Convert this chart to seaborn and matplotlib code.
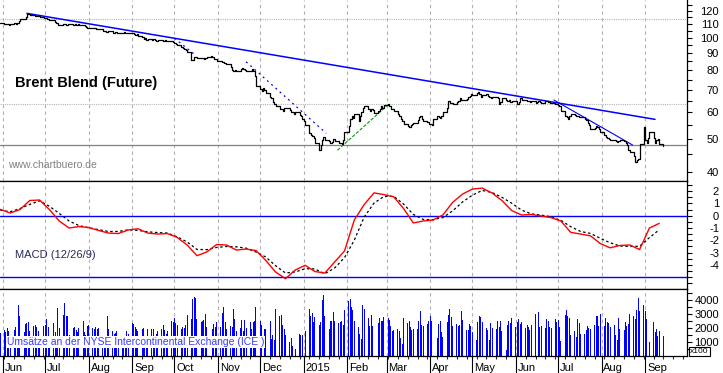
import pandas as pd
import matplotlib
matplotlib.use("Agg")
import matplotlib.pyplot as plt
import matplotlib.dates as mdates
from matplotlib.transforms import ScaledTranslation
from matplotlib.ticker import FixedLocator, FixedFormatter, NullFormatter
import seaborn as sns

sns.set_theme(style="white")
plt.rcParams['font.family'] = ['Liberation Sans', 'DejaVu Sans']

start = '2014-05-30'

# daily close (Brent future), one row per month
close = [
    110.6,
    110.0, 109.5, 109.8, 109.3, 109.8, 110.5, 110.0, 110.8, 111.8, 113.5, 114.0, 115.5, 117.2, 117.7, 116.8, 116.5, 116.2, 115.8, 116.0, 115.2, 114.8,
    114.5, 114.0, 113.8, 113.2, 112.5, 111.5, 110.5, 109.2, 109.0, 109.8, 109.5, 109.2, 109.8, 109.5, 109.0, 109.6, 109.2, 109.5, 108.8, 109.0, 108.5, 107.8, 107.2,
    107.0, 106.5, 106.8, 106.0, 106.2, 105.8, 105.0, 104.5, 104.1, 103.8, 104.4, 103.6, 103.2, 103.8, 103.5, 103.0, 103.6, 103.8, 103.2, 103.5, 103.6,
    103.0, 102.6, 102.0, 102.4, 101.5, 100.2, 99.0, 99.5, 98.6, 99.2, 98.5, 98.8, 98.6, 98.0, 98.5, 98.2, 97.8, 98.4, 98.0, 97.5, 97.7, 97.2,
    96.5, 95.5, 94.9, 94.0, 93.0, 92.5, 91.8, 90.5, 86.0, 85.9, 87.5, 87.8, 87.2, 86.9, 87.0, 86.5, 86.9, 87.5, 88.2, 87.8, 86.5, 86.2, 85.5,
    85.0, 84.9, 84.0, 84.3, 83.5, 82.0, 80.0, 79.4, 80.0, 79.6, 80.5, 81.2, 80.8, 80.0, 79.4, 79.8, 80.6, 79.5, 77.0, 72.0,
    70.2, 69.5, 70.9, 69.8, 68.5, 66.8, 66.0, 64.5, 63.4, 62.5, 61.5, 61.3, 60.5, 61.8, 62.0, 61.0, 60.2, 60.0, 59.5, 60.3, 59.0, 58.7, 57.5,
    56.5, 55.0, 52.0, 51.5, 51.2, 50.5, 48.5, 46.3, 48.0, 49.5, 50.6, 49.8, 49.4, 48.8, 49.0, 50.1, 49.2, 48.6, 48.8, 48.2, 49.5, 52.5,
    54.5, 57.5, 58.7, 57.8, 59.3, 56.5, 58.5, 60.2, 61.8, 62.8, 61.5, 60.5, 61.3, 60.8, 59.9, 60.5, 61.5, 62.8, 62.0, 63.0,
    63.4, 62.5, 61.5, 61.3, 60.5, 59.5, 58.7, 57.5, 56.5, 55.4, 54.8, 54.3, 55.0, 55.6, 55.9, 56.8, 58.0, 58.7, 57.5, 56.6, 56.0, 55.5,
    55.4, 55.1, 57.5, 58.7, 58.0, 57.7, 58.5, 60.3, 62.0, 64.9, 64.0, 63.8, 63.4, 64.5, 65.0, 66.0, 65.5, 65.2, 65.8, 66.5, 67.0, 67.9,
    67.5, 68.5, 69.0, 68.0, 66.8, 67.5, 67.9, 67.2, 66.5, 66.0, 66.5, 66.8, 66.2, 63.4, 64.5, 66.0, 65.5, 65.0, 65.2, 64.6, 65.0,
    64.8, 63.4, 64.5, 66.0, 65.5, 65.2, 64.8, 65.0, 64.4, 64.9, 63.8, 64.2, 64.9, 64.5, 64.0, 64.7, 64.9, 64.3, 63.8, 64.1, 63.6, 63.4,
    63.0, 62.8, 60.5, 58.7, 58.1, 57.5, 58.5, 59.3, 59.0, 58.7, 58.4, 58.0, 58.1, 57.5, 56.8, 55.9, 55.0, 53.6, 53.8, 54.5, 54.3, 53.5, 52.5,
    51.5, 50.6, 50.5, 50.1, 49.6, 49.8, 49.4, 49.0, 49.4, 49.5, 49.2, 48.5, 47.9, 46.5, 45.6, 44.5, 42.8, 43.2, 43.5, 48.4, 54.3,
    49.5, 48.8, 50.5, 52.3, 50.5, 48.8, 49.5, 50.1, 48.4, 47.6,
]

# daily volume (contracts x100)
volume = [
    1640,
    1830, 1710, 2000, 1760, 1300, 1880, 2070, 1200, 3670, 2860, 1710, 2310, 2360, 2430, 1760, 2120, 2190, 2070, 1760, 1300, 2170,
    2240, 2670, 2070, 1250, 2360, 1710, 1300, 3430, 2000, 2950, 3780, 2860, 2860, 1520, 2000, 2100, 1880, 1710, 2000, 2500, 1710, 1520, 2140,
    2190, 2000, 1950, 2050, 1950, 2000, 1200, 1250, 1300, 2860, 1950, 1760, 1590, 1620, 1760, 1150, 1050, 1250, 1100, 1760, 1590,
    2380, 2310, 2070, 1950, 1760, 1900, 2000, 1300, 1250, 1900, 1950, 1900, 1300, 1590, 1760, 1950, 2190, 1830, 1590, 1760, 2480, 2430,
    2710, 2380, 2190, 1900, 2070, 2000, 2190, 2950, 2670, 4050, 4210, 4140, 2670, 2430, 2480, 2570, 3000, 2070, 2140, 1950, 2310, 2070, 2430,
    2070, 3070, 3500, 2430, 1950, 2140, 2070, 3380, 2670, 1760, 2000, 2550, 1760, 2550, 2000, 2430, 1900, 2430, 2480, 3500,
    2480, 2190, 1760, 1900, 1900, 2480, 1200, 1520, 1120, 3380, 2860, 2950, 2190, 1950, 1480, 1000, 1300, 700, 0, 480, 1590, 1480, 1480,
    0, 1760, 3380, 2860, 3090, 2430, 2790, 2190, 2430, 3970, 4330, 2860, 1900, 2480, 2480, 3140, 2480, 2380, 2430, 2480, 2240, 3310,
    3930, 4090, 3500, 3260, 2500, 2070, 1590, 1240, 3670, 3380, 2710, 2140, 2900, 2140, 2670, 2360, 2710, 2500, 2500, 2790,
    2740, 2550, 2140, 1780, 1880, 1930, 1780, 1290, 880, 2710, 2360, 2500, 2070, 1880, 1930, 1930, 2500, 3210, 2240, 2140, 2310, 2500,
    2860, 2500, 0, 1290, 2290, 2500, 1710, 1360, 2430, 2930, 3360, 2790, 2140, 2290, 2140, 2210, 3210, 2570, 1860, 1860, 2290, 2140,
    1710, 1120, 2430, 2860, 2790, 2430, 2000, 1860, 1120, 2360, 2000, 1930, 2500, 2070, 2500, 1780, 430, 2210, 2500, 2360, 2710,
    2070, 2430, 2640, 2290, 2430, 2000, 2210, 2070, 1860, 2210, 3000, 2710, 3140, 2070, 2140, 2000, 2640, 2500, 2070, 2000, 2640, 2430,
    2570, 2070, 1070, 2930, 3280, 2860, 2710, 1500, 1780, 1360, 2640, 2360, 1570, 1570, 1860, 2140, 2000, 1930, 2210, 2860, 2860, 2140, 3000,
    2140, 2710, 2430, 2360, 2070, 2210, 1500, 1140, 2710, 1930, 1860, 2430, 2140, 2290, 3000, 2860, 2640, 3280, 4140, 3210, 3640,
    3210, 2640, 2140, 1000, 2430, 1710, 1930, 1430, 1800, 1430,
]

# MACD (12/26/9), weekly readings
macd = [
    0.52, 0.22, 0.50, 1.24, 1.28, 0.50, -0.43, -1.00, -0.88, -0.96,
    -1.20, -1.41, -1.45, -1.16, -1.06, -1.41, -1.49, -1.45, -1.77, -2.38,
    -3.25, -2.95, -2.34, -2.38, -2.79, -2.71, -2.83, -3.64, -4.58, -5.12,
    -4.41, -4.03, -4.54, -4.66, -3.76, -2.87, -0.35, 0.91, 1.86, 1.72,
    1.54, 0.59, -0.59, -0.43, -0.35, 0.06, 1.09, 1.76, 2.17, 2.25,
    1.85, 1.24, 0.42, 0.06, 0.10, -0.02, -0.15, -0.43, -1.35, -1.49,
    -1.63, -2.26, -2.61, -2.42, -2.38, -2.75, -1.00, -0.62,
]
signal = [
    0.46, 0.32, 0.58, 0.92, 1.21, 0.77, 0.19, -0.43, -0.80, -0.98,
    -1.13, -1.28, -1.28, -1.15, -1.19, -1.31, -1.37, -1.41, -1.72, -2.13,
    -2.74, -2.76, -2.58, -2.50, -2.53, -2.64, -2.95, -3.36, -4.07, -4.66,
    -4.57, -4.31, -4.33, -4.72, -4.25, -3.41, -1.98, -0.11, 1.03, 1.56,
    1.58, 0.95, 0.11, -0.30, -0.32, -0.15, 0.40, 1.12, 1.67, 2.06,
    1.89, 1.50, 1.02, 0.46, 0.15, 0.05, -0.09, -0.38, -0.89, -1.28,
    -1.44, -1.83, -2.20, -2.46, -2.50, -2.48, -1.78, -1.14,
]

month_labels = ['Jun', 'Jul', 'Aug', 'Sep', 'Oct', 'Nov', 'Dec', '2015',
                'Feb', 'Mar', 'Apr', 'May', 'Jun', 'Jul', 'Aug', 'Sep']

# drawn trend lines (date, price)
trend_long_dates = ['2014-06-18', '2015-09-08']
trend_long = [118.1, 57.2]
trend_short_dates = ['2015-06-28', '2015-08-23']
trend_short = [65.3, 48.0]
dotted1_dates = ['2014-10-01', '2014-10-15']
dotted1 = [99.6, 89.4]
dotted2_dates = ['2014-11-21', '2015-01-17']
dotted2 = [84.8, 52.0]
green_dates = ['2015-01-25', '2015-03-02']
green = [46.3, 63.2]
levels_light = [113.4, 63.4]
level_dark = 47.9
macd_lines = [0, -5]

days = pd.bdate_range(start, periods=len(close))
vdays = pd.bdate_range(start, periods=len(volume))
weeks = pd.date_range(start, periods=len(macd), freq='7D')
months = pd.date_range('2014-06-01', periods=len(month_labels), freq='MS')

price_df = pd.DataFrame({'date': days, 'close': close})
macd_df = pd.DataFrame({'date': weeks, 'macd': macd, 'signal': signal})

xmin = pd.Timestamp('2014-05-29 20:00')
xmax = pd.Timestamp('2015-09-30 18:00')

fig = plt.figure(figsize=(7.23, 3.73), dpi=100)
W, H = 723, 373
right = 687 / W
ax_p = fig.add_axes([0, 1 - 180.7 / H, right, 180.7 / H])
ax_m = fig.add_axes([0, 1 - 289 / H, right, (289 - 180.7) / H])
ax_v = fig.add_axes([0, 1 - 356 / H, right, (356 - 289) / H])

grid_kw = dict(color='#b8acb8', lw=0.8, ls=(0, (3, 3)), zorder=0)
for ax in (ax_p, ax_m, ax_v):
    ax.set_facecolor('white')
    for m in months:
        ax.axvline(m, **grid_kw)
    for s in ax.spines.values():
        s.set_color('black')
        s.set_linewidth(0.9)
    ax.spines['left'].set_visible(False)
    ax.tick_params(axis='y', which='both', left=False, right=True, labelleft=False,
                   labelright=True, direction='out', length=3.6, width=0.8,
                   colors='black', labelsize=8, pad=19.5)
    ax.yaxis.set_label_position('right')

# price panel
ax_p.spines['top'].set_visible(False)
ax_p.set_yscale('log')
for lv in levels_light:
    ax_p.axhline(lv, color='#b4b4b4', lw=0.8, ls=(0, (1, 1)), zorder=1)
ax_p.axhline(level_dark, color='#808080', lw=0.9, zorder=1)
ax_p.plot(pd.to_datetime(trend_long_dates), trend_long, color='#0000ff', lw=1.1, zorder=2)
ax_p.plot(pd.to_datetime(trend_short_dates), trend_short, color='#0000ff', lw=0.8, zorder=2)
ax_p.plot(pd.to_datetime(dotted1_dates), dotted1, color='#0000ff', lw=0.9, ls=(0, (1.5, 3)), zorder=2)
ax_p.plot(pd.to_datetime(dotted2_dates), dotted2, color='#0000ff', lw=0.9, ls=(0, (1.5, 3)), zorder=2)
ax_p.plot(pd.to_datetime(green_dates), green, color='#009900', lw=0.8, ls=(0, (3, 1.5)), zorder=2)
sns.lineplot(data=price_df, x='date', y='close', ax=ax_p, color='black', lw=0.9,
             drawstyle='steps-post', zorder=3)
ax_p.set_ylim(37.6, 129.4)
ax_p.yaxis.set_major_locator(FixedLocator(list(range(40, 130, 10))))
ax_p.yaxis.set_major_formatter(FixedFormatter([str(v) for v in range(40, 130, 10)]))
ax_p.yaxis.set_minor_locator(FixedLocator(list(range(45, 130, 10))))
ax_p.yaxis.set_minor_formatter(NullFormatter())
ax_p.text(0.022, 0.538, 'Brent Blend (Future)', transform=ax_p.transAxes,
          fontsize=10.5, fontweight='bold', color='black', va='center', ha='left')
ax_p.text(0.012, 0.087, 'www.chartbuero.de', transform=ax_p.transAxes,
          fontsize=7.5, color='#808080', va='center', ha='left')

# MACD panel
for lv in macd_lines:
    ax_m.axhline(lv, color='#0000ff', lw=1.0, zorder=1)
sns.lineplot(data=macd_df, x='date', y='signal', ax=ax_m, color='black', lw=0.9,
             linestyle=(0, (2, 2)), zorder=2)
sns.lineplot(data=macd_df, x='date', y='macd', ax=ax_m, color='#ff0000', lw=1.0, zorder=3)
ax_m.set_ylim(-5.96, 2.85)
ax_m.yaxis.set_major_locator(FixedLocator(list(range(-4, 3))))
ax_m.yaxis.set_major_formatter(FixedFormatter([str(v) for v in range(-4, 3)]))
ax_m.yaxis.set_minor_locator(FixedLocator([v / 2 for v in range(-11, 6, 2)] + [-5]))
ax_m.text(0.022, 0.314, 'MACD (12/26/9)', transform=ax_m.transAxes,
          fontsize=8, color='#2a2a5a', va='center', ha='left')

# volume panel
ax_v.bar(vdays, volume, width=0.7, color='#0000ff', linewidth=0, antialiased=False, zorder=2)
ax_v.set_ylim(0, 4786)
ax_v.yaxis.set_major_locator(FixedLocator([1000, 2000, 3000, 4000]))
ax_v.yaxis.set_major_formatter(FixedFormatter(['1000', '2000', '3000', '4000']))
ax_v.yaxis.set_minor_locator(FixedLocator([500, 1500, 2500, 3500, 4500]))
ax_v.text(0.01, 0.213, 'Umsätze an der NYSE Intercontinental Exchange (ICE )',
          transform=ax_v.transAxes, fontsize=7.5, color='#3a3aff', va='center', ha='left',
          zorder=5, bbox=dict(boxstyle='square,pad=0.1', fc='white', ec='none'))

for ax in (ax_p, ax_m, ax_v):
    ax.set_xlim(xmin, xmax)
    ax.set_xlabel('')
    ax.set_ylabel('')
    for lab in ax.get_yticklabels():
        lab.set_horizontalalignment('right')

for ax in (ax_p, ax_m):
    ax.tick_params(axis='x', which='both', bottom=False, labelbottom=False)

ax_v.xaxis.set_major_locator(FixedLocator(mdates.date2num(months)))
ax_v.xaxis.set_major_formatter(FixedFormatter(month_labels))
ax_v.xaxis.set_minor_locator(mdates.WeekdayLocator(byweekday=mdates.MO))
ax_v.tick_params(axis='x', which='major', bottom=True, direction='out', length=12.2,
                 width=0.8, labelsize=8, pad=-7.3, colors='black')
ax_v.tick_params(axis='x', which='minor', bottom=True, direction='out', length=2, width=0.8)
shift = ScaledTranslation(1.3 / 72, 0, fig.dpi_scale_trans)
for lab in ax_v.get_xticklabels():
    lab.set_horizontalalignment('left')
    lab.set_transform(lab.get_transform() + shift)

fig.text(690 / W, 1 - 351.5 / H, 'x100', fontsize=6, color='black', va='center', ha='left',
         bbox=dict(boxstyle='square,pad=0.12', fc='white', ec='black', lw=0.8))

fig.savefig('out.png', dpi=100)
plt.close(fig)
